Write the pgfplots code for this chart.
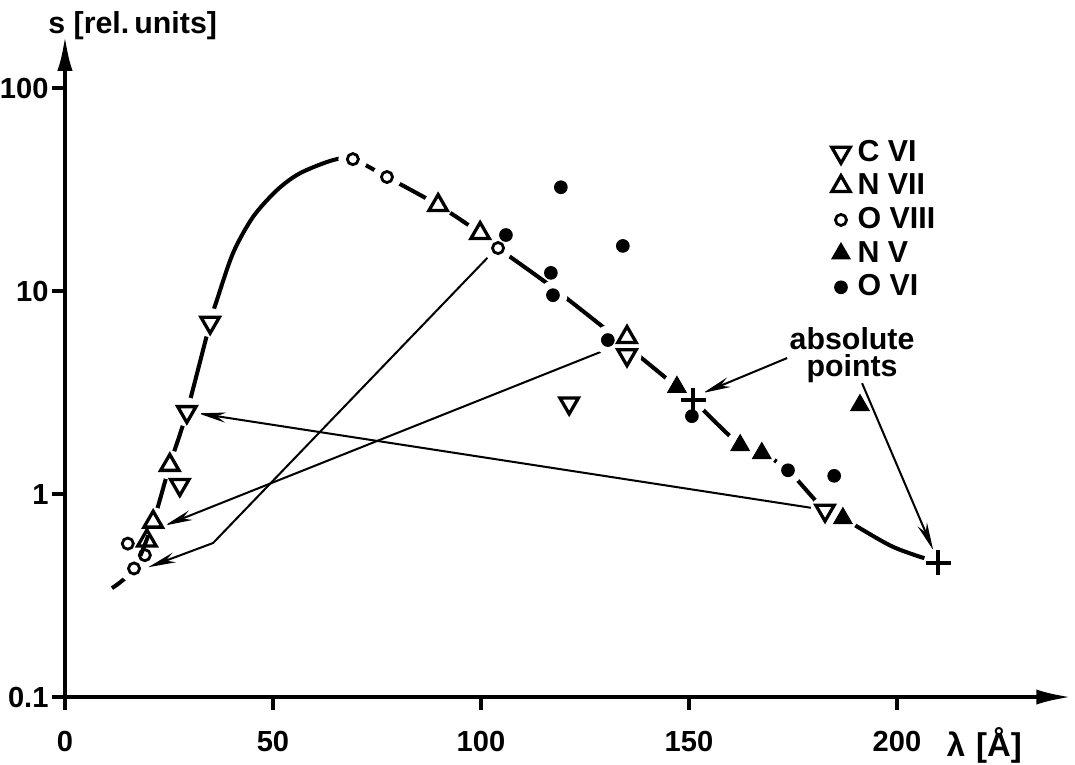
\documentclass[border=0pt]{standalone}
\usepackage{fontspec}
\setmainfont{Liberation Sans}
\usepackage{pgfplots}
\pgfplotsset{compat=1.18}
\usetikzlibrary{arrows.meta}

\pgfplotsset{
  lm/.style={only marks,
    legend image code/.code={\path (0cm,0cm) (0.34cm,0cm);\draw[##1] plot coordinates {(0.15cm,0cm)};}},
}
\tikzset{arr/.style={line width=0.8pt, -{Stealth[length=11pt,width=4pt]}}}

\begin{document}
\begin{tikzpicture}[font=\bfseries]
\begin{axis}[
  scale only axis, width=398.2pt, height=261.7pt,
  xmin=0, xmax=242, ymin=0.1, ymax=182, ymode=log,
  axis lines=left,
  axis line style={line width=1.6pt, -{Latex[length=14pt,width=6pt]}},
  xtick={0,50,100,150,200},
  ytick={0.1,1,10,100}, yticklabels={0.1,1,10,100},
  yminorticks=false,
  tick align=outside, major tick length=5pt,
  tick style={line width=1.4pt, black},
  tick label style={font=\fontsize{11.5}{13}\selectfont\bfseries},
  xticklabel style={yshift=-5pt},
  yticklabel style={xshift=2pt},
  /pgf/number format/assume math mode=true,
  clip=false,
  legend style={at={(axis cs:183.7,57.4)}, anchor=north west, draw=none, fill=none,
    font=\fontsize{12}{14}\selectfont\bfseries, row sep=1.5pt, inner sep=0pt,
    nodes={inner sep=1pt}},
  legend cell align=left,
]
\coordinate (O) at (axis cs:0,0.1);

% curve through the points
\addplot[smooth, tension=0.5, line width=1.6pt, forget plot] coordinates {
  (11.3,0.344) (16.6,0.43) (21.2,0.73) (25.2,1.39) (29.3,2.54) (34.9,7.0)
  (36.5,9.0) (40.4,15.4) (45.2,23.2) (51,31.5) (56.5,38.1) (64.4,44.2)
  (69.2,44.7) (77.4,36.5)
  (89.7,26.5) (99.8,19.3) (104.1,16.3) (117,10.5) (133,5.8) (147.1,3.37)
  (151,2.9) (162.3,1.74) (167.5,1.59) (173.8,1.31) (182.7,0.83) (187,0.76)
  (199,0.55) (209.9,0.46)
};

% white gaps around the marks on the curve
\addplot[only marks, mark=*, mark size=5.5pt, white, forget plot] coordinates {
  (29.3,2.54) (34.9,7.0) (135.1,4.84) (182.7,0.83)
  (25.2,1.39) (21.2,0.73) (89.7,26.5) (99.8,19.3) (135.1,5.93)
  (16.6,0.43) (69.2,44.7) (77.4,36.5) (104.1,16.3)
  (147.1,3.37) (162.3,1.74) (167.5,1.59) (187,0.76)
  (130.5,5.74) (173.8,1.31) (117.3,9.55)
  (151,2.9) (209.9,0.46)
};

\addplot[lm, mark=triangle, mark size=4.2pt, mark options={rotate=180, line width=1.3pt}] coordinates {
  (29.3,2.54) (27.6,1.11) (34.9,7.0) (135.1,4.84) (121.2,2.8) (182.7,0.83)
};
\addlegendentry{C VI}
\addplot[lm, mark=triangle, mark size=4.2pt, mark options={line width=1.3pt}] coordinates {
  (25.2,1.39) (21.2,0.73) (19.7,0.59) (89.7,26.5) (99.8,19.3) (135.1,5.93)
};
\addlegendentry{N VII}
\addplot[lm, mark=o, mark size=2.2pt, mark options={line width=1.1pt}] coordinates {
  (15.1,0.57) (19.2,0.50) (16.6,0.43) (69.2,44.7) (77.4,36.5) (104.1,16.3)
};
\addlegendentry{O VIII}
\addplot[lm, mark=triangle*, mark size=4.2pt, mark options={fill=black}] coordinates {
  (147.1,3.37) (162.3,1.74) (167.5,1.59) (187,0.76) (191.1,2.74)
};
\addlegendentry{N V}
\addplot[lm, mark=*, mark size=2.5pt, mark options={fill=black}] coordinates {
  (106,18.9) (119.2,32.5) (134.1,16.7) (116.8,12.3) (117.3,9.55)
  (130.5,5.74) (150.7,2.42) (173.8,1.31) (184.9,1.23)
};
\addlegendentry{O VI}
\addplot[only marks, mark=+, mark size=5pt, mark options={line width=1.6pt}, forget plot] coordinates {
  (151,2.9) (209.9,0.46)
};

% annotation arrows
\draw[arr] (axis cs:173.6,4.68) -- (axis cs:153.4,3.15);
\draw[arr] (axis cs:191.6,3.52) -- (axis cs:208.7,0.53);
\draw[arr] (axis cs:179.8,0.853) -- (axis cs:32,2.5);
\draw[arr] (axis cs:131.7,5.3) -- (axis cs:24.0,0.70);
\draw[arr] (axis cs:101.7,14.7) -- (axis cs:35.6,0.574) -- (axis cs:20.0,0.436);

\node[align=center, inner sep=0pt, font=\fontsize{12}{11}\selectfont\bfseries]
  at (axis cs:189.2,4.84) {absolute\\points};
\node[anchor=west, inner sep=0pt, font=\fontsize{12}{14}\selectfont\bfseries]
  at (axis cs:-4.1,204) {s [rel.\,units]};
\node[inner sep=0pt, font=\fontsize{13}{14}\selectfont\bfseries]
  at (axis cs:221,0.058) {λ\,\,[Å]};
\end{axis}
\pgfresetboundingbox
\path[use as bounding box] (O) ++(-25.7pt,-26.5pt) rectangle ++(425.2pt,302.2pt);
\end{tikzpicture}
\end{document}
